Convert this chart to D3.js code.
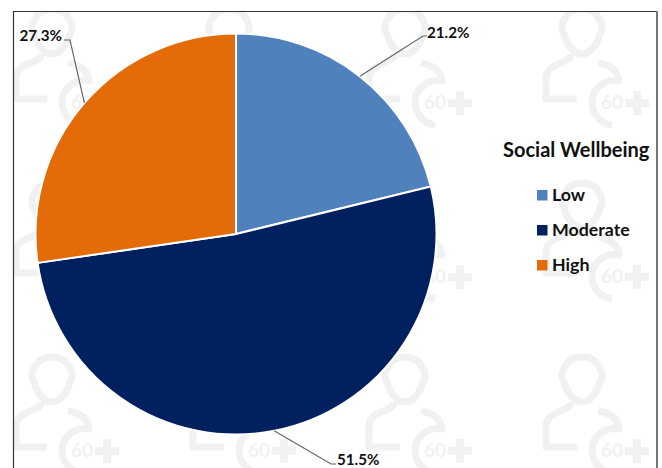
<!DOCTYPE html>
<html>
<head>
<meta charset="utf-8">
<script src="https://cdn.jsdelivr.net/npm/d3@7"></script>
<style>
  html, body { margin: 0; padding: 0; background: #fff; }
  svg { display: block; }
  text { font-family: Lato, "Open Sans", sans-serif; font-weight: 700; fill: #111; }
</style>
</head>
<body>
<script>
// Survey shares by wellbeing level
const categories = ["Low", "Moderate", "High"];
const shares = [21.2, 51.5, 27.3];
const sliceColors = ["#4f81bd", "#002060", "#e36c09"];
const legendTitle = "Social Wellbeing";

// Background badge grid
const badgeColumns = [52, 229, 405, 582];
const badgeRows = [32, 206, 380];

// Leader line elbows and label anchors, ordered like the categories
const leaderElbows = [[423, 36], [331, 464], [70, 40]];
const leaderEnds = [[427, 36], [336, 464], [64, 40]];
const labelAnchors = [[427, 38], [337, 465], [62, 41]];
const labelAlign = ["start", "start", "end"];

const width = 662, height = 468;
const cx = 236, cy = 234, radius = 200.5;

const svg = d3.select("body").append("svg")
  .attr("width", width).attr("height", height);

svg.append("defs").append("clipPath").attr("id", "frame-clip")
  .append("rect").attr("x", 14).attr("y", 12).attr("width", 642).attr("height", 456);

// Faint repeating badge: person outline with a 60+ mark
const badgeLayer = svg.append("g").attr("clip-path", "url(#frame-clip)");
const badgeInk = "#f1f1f1";
badgeRows.forEach(by => badgeColumns.forEach(bx => {
  const b = badgeLayer.append("g").attr("transform", `translate(${bx},${by})`);
  const stroke = g => g.attr("fill", "none").attr("stroke", badgeInk)
    .attr("stroke-width", 7).attr("stroke-linejoin", "round");
  b.append("path").call(stroke)
    .attr("d", "M-17,-13 C-14,-20 -8,-23 0,-23 C8,-23 14,-20 17,-13 C21,-8 21,-2 18,2 C15,13 8,22 0,22 C-8,22 -15,13 -18,2 C-21,-2 -21,-8 -17,-13 Z");
  b.append("path").call(stroke)
    .attr("d", "M-11,22 C-11,33 -36,29 -36,47 L-36,67 L-5,67");
  b.append("path").call(stroke)
    .attr("d", "M16,31 C28,33 36,38 37,49 C24,46 10,56 10,70 C10,82 19,92 30,93");
  b.append("text").attr("x", 30).attr("y", 77).attr("text-anchor", "middle")
    .attr("font-size", 19).style("fill", badgeInk).text("60");
  b.append("path").attr("fill", badgeInk)
    .attr("d", "M51,59 h8 v8 h8 v8 h-8 v8 h-8 v-8 h-8 v-8 h8 Z");
}));

// Frame on the top, left and right edges
svg.append("path")
  .attr("d", "M13.5,468 V11.5 H657")
  .attr("fill", "none").attr("stroke", "#333").attr("stroke-width", 1.2);
svg.append("line")
  .attr("x1", 657).attr("x2", 657).attr("y1", 11).attr("y2", 468)
  .attr("stroke", "#777").attr("stroke-width", 2);

// Pie slices, clockwise from twelve o'clock
const pie = d3.pie().sort(null).value(d => d);
const arcs = pie(shares);
const arc = d3.arc().innerRadius(0).outerRadius(radius);
const plot = svg.append("g").attr("transform", `translate(${cx},${cy})`);

plot.selectAll("path.slice").data(arcs).join("path")
  .attr("class", "slice")
  .attr("d", arc)
  .attr("fill", (d, i) => sliceColors[i])
  .attr("stroke", "#fff").attr("stroke-width", 2).attr("stroke-linejoin", "round");

// Leader lines start on the rim at each slice's middle angle
const rimPoint = d => {
  const a = (d.startAngle + d.endAngle) / 2;
  return [cx + radius * Math.sin(a), cy - radius * Math.cos(a)];
};
const leader = d3.line();
svg.selectAll("path.leader").data(arcs).join("path")
  .attr("class", "leader")
  .attr("d", (d, i) => leader([rimPoint(d), leaderElbows[i], leaderEnds[i]]))
  .attr("fill", "none").attr("stroke", "#666").attr("stroke-width", 1.2);

svg.selectAll("text.value").data(arcs).join("text")
  .attr("class", "value")
  .attr("x", (d, i) => labelAnchors[i][0])
  .attr("y", (d, i) => labelAnchors[i][1])
  .attr("text-anchor", (d, i) => labelAlign[i])
  .attr("font-size", 15.2)
  .text(d => d.value.toFixed(1) + "%");

// Legend
svg.append("text").attr("x", 503).attr("y", 157).attr("font-size", 20).text(legendTitle);
const legendY = d3.scalePoint().domain(categories).range([195, 265]);
const legend = svg.selectAll("g.entry").data(categories).join("g")
  .attr("class", "entry")
  .attr("transform", d => `translate(537,${legendY(d)})`);
legend.append("rect").attr("x", 0).attr("y", -5).attr("width", 10.5).attr("height", 10.5)
  .attr("fill", (d, i) => sliceColors[i]);
legend.append("text").attr("x", 15).attr("y", 6).attr("font-size", 17.8).text(d => d);
</script>
</body>
</html>
